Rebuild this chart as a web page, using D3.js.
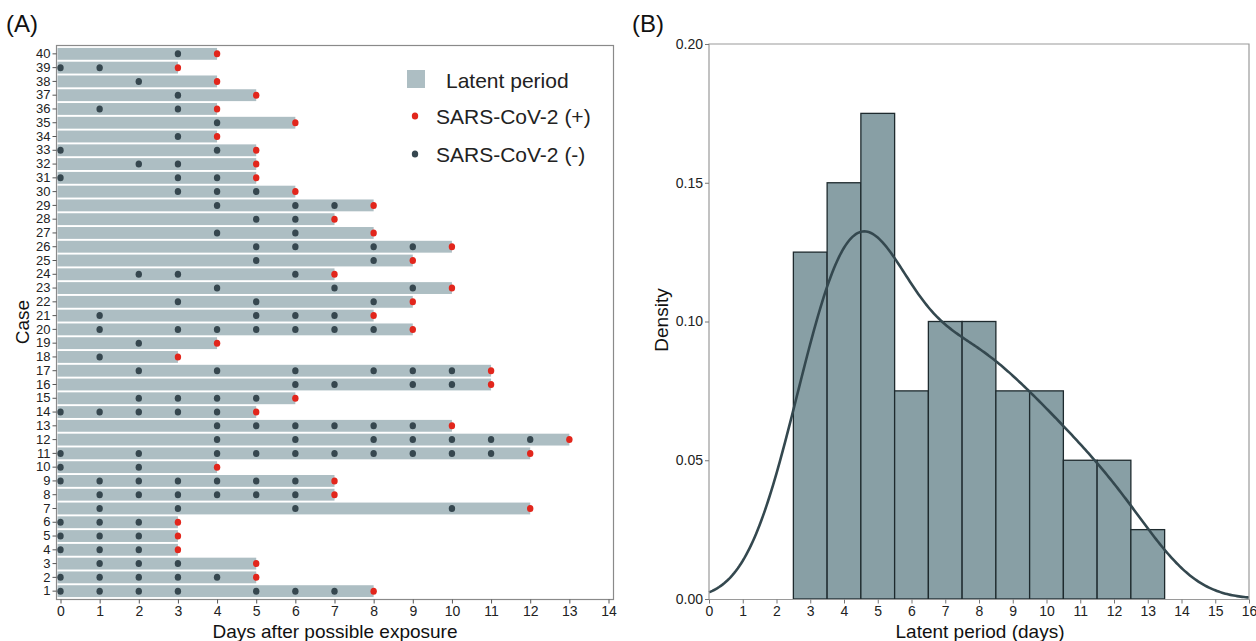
<!DOCTYPE html>
<html>
<head>
<meta charset="utf-8">
<script src="https://cdn.jsdelivr.net/npm/d3@7"></script>
<style>
  body { margin: 0; background: #fff; }
  svg { font-family: "Liberation Sans", Arial, sans-serif; }
</style>
</head>
<body>
<div id="chart"></div>
<script>
// case numbers, 1..40 (bottom to top)
const caseIds = [1,2,3,4,5,6,7,8,9,10,11,12,13,14,15,16,17,18,19,20,
                 21,22,23,24,25,26,27,28,29,30,31,32,33,34,35,36,37,38,39,40];

// day of the first positive test (= latent period), per case
const positiveDay = [8,5,5,3,3,3,12,7,7,4,12,13,10,5,6,11,11,3,4,9,
                     8,9,10,7,9,10,8,7,8,6,5,5,5,4,6,4,5,4,3,4];

// days with a negative test, per case
const negativeDays = [
  [0,1,2,3,5,6,7],          // 1
  [0,1,2,3,4],              // 2
  [1,2,3],                  // 3
  [0,1,2],                  // 4
  [0,1,2],                  // 5
  [0,1,2],                  // 6
  [1,3,6,10],               // 7
  [1,2,3,4,5,6],            // 8
  [0,1,2,3,4,5,6],          // 9
  [0,2],                    // 10
  [0,2,4,5,6,7,8,9,10,11],  // 11
  [4,6,8,9,10,11,12],       // 12
  [4,5,6,7,8,9],            // 13
  [0,1,2,3,4],              // 14
  [2,3,4,5],                // 15
  [6,7,9,10],               // 16
  [2,4,6,8,9,10],           // 17
  [1],                      // 18
  [2],                      // 19
  [1,3,4,5,6,7,8],          // 20
  [1,5,6,7],                // 21
  [3,5,8],                  // 22
  [4,7,9],                  // 23
  [2,3,6],                  // 24
  [5,8],                    // 25
  [5,6,8,9],                // 26
  [4,6],                    // 27
  [5,6],                    // 28
  [4,6,7],                  // 29
  [3,4,5],                  // 30
  [0,3,4],                  // 31
  [2,3],                    // 32
  [0,4],                    // 33
  [3],                      // 34
  [4],                      // 35
  [1,3],                    // 36
  [3],                      // 37
  [2],                      // 38
  [0,1],                    // 39
  [3]                       // 40
];

const dayTicksA = [0,1,2,3,4,5,6,7,8,9,10,11,12,13,14];
const dayTicksB = [0,1,2,3,4,5,6,7,8,9,10,11,12,13,14,15,16];
const densityTicks = [0, 0.05, 0.10, 0.15, 0.20];
const legendLabels = ["Latent period", "SARS-CoV-2 (+)", "SARS-CoV-2 (-)"];

const W = 1256, H = 641;
const barColor = "#adbec3";
const histColor = "#889fa5";
const posColor = "#e2261c";
const negColor = "#36474f";
const curveColor = "#34484f";
const frameColor = "#8a8a8a";

const svg = d3.select("#chart").append("svg")
    .attr("width", W).attr("height", H);

// ---------- Panel A ----------
const xA = d3.scaleLinear().domain([0, 14]).range([60.5, 608.5]);
const yA = d3.scaleBand().domain(caseIds).range([599, 46]).padding(0.14);

const gA = svg.append("g");

const rows = caseIds.map((c, i) => ({ id: c, pos: positiveDay[i], neg: negativeDays[i] }));

gA.selectAll(".bar").data(rows).join("rect")
    .attr("class", "bar")
    .attr("x", xA(0) - 3)
    .attr("y", d => yA(d.id))
    .attr("width", d => xA(d.pos) - xA(0) + 3)
    .attr("height", yA.bandwidth())
    .attr("fill", barColor);

const negPts = rows.flatMap(d => d.neg.map(v => ({ id: d.id, day: v })));
gA.selectAll(".neg").data(negPts).join("ellipse")
    .attr("class", "neg")
    .attr("cx", d => xA(d.day))
    .attr("cy", d => yA(d.id) + yA.bandwidth() / 2)
    .attr("rx", 3.2).attr("ry", 3.5)
    .attr("fill", negColor);

gA.selectAll(".pos").data(rows).join("ellipse")
    .attr("class", "pos")
    .attr("cx", d => xA(d.pos))
    .attr("cy", d => yA(d.id) + yA.bandwidth() / 2)
    .attr("rx", 3.2).attr("ry", 3.5)
    .attr("fill", posColor);

// frame
gA.append("rect")
    .attr("x", 56.5).attr("y", 45.5)
    .attr("width", 557).attr("height", 554)
    .attr("fill", "none")
    .attr("stroke", frameColor)
    .attr("stroke-width", 1.2);

const axA_y = gA.append("g")
    .attr("transform", "translate(56.5,0)")
    .call(d3.axisLeft(yA).tickSize(4).tickPadding(2));
axA_y.select(".domain").remove();
axA_y.selectAll("text").style("font-size", "13px").attr("fill", "#222");
axA_y.selectAll("line").attr("stroke", "#555");

const axA_x = gA.append("g")
    .attr("transform", "translate(0,599.5)")
    .call(d3.axisBottom(xA).tickValues(dayTicksA).tickSize(4).tickPadding(3));
axA_x.select(".domain").remove();
axA_x.selectAll("text").style("font-size", "14px").attr("fill", "#222");
axA_x.selectAll("line").attr("stroke", "#555");

gA.append("text")
    .attr("x", 335).attr("y", 638)
    .attr("text-anchor", "middle")
    .style("font-size", "19px").attr("fill", "#111")
    .text("Days after possible exposure");

gA.append("text")
    .attr("transform", "translate(29,322) rotate(-90)")
    .attr("text-anchor", "middle")
    .style("font-size", "19px").attr("fill", "#111")
    .text("Case");

svg.append("text")
    .attr("x", 6).attr("y", 32)
    .style("font-size", "24px").attr("fill", "#111")
    .text("(A)");

// legend
const lg = gA.append("g");
lg.append("rect").attr("x", 407).attr("y", 70).attr("width", 18).attr("height", 18).attr("fill", barColor);
lg.append("ellipse").attr("cx", 415).attr("cy", 116).attr("rx", 3.2).attr("ry", 3.5).attr("fill", posColor);
lg.append("ellipse").attr("cx", 415).attr("cy", 154).attr("rx", 3.2).attr("ry", 3.5).attr("fill", negColor);
lg.selectAll(".lgText").data(legendLabels).join("text")
    .attr("class", "lgText")
    .attr("x", (d, i) => i === 0 ? 446 : 436)
    .attr("y", (d, i) => [80, 116, 154][i])
    .attr("dy", "0.36em")
    .style("font-size", "21px").attr("fill", "#222")
    .text(d => d);

// ---------- Panel B ----------
const xB = d3.scaleLinear().domain([0, 16]).range([709, 1249]);
const yB = d3.scaleLinear().domain([0, 0.2]).range([599, 44]);
const gB = svg.append("g");

const n = positiveDay.length;
const bins = d3.bin().domain([2.5, 13.5]).thresholds(d3.range(3.5, 13.5, 1))(positiveDay);

gB.selectAll(".hist").data(bins).join("rect")
    .attr("class", "hist")
    .attr("x", d => xB(d.x0))
    .attr("y", d => yB(d.length / n / (d.x1 - d.x0)))
    .attr("width", d => xB(d.x1) - xB(d.x0))
    .attr("height", d => yB(0) - yB(d.length / n / (d.x1 - d.x0)))
    .attr("fill", histColor)
    .attr("stroke", "#1e2a2e")
    .attr("stroke-width", 1.3);

// gaussian kernel density of the latent periods (bw.nrd0 rule)
const sorted = positiveDay.slice().sort(d3.ascending);
const sd = d3.deviation(positiveDay);
const iqr = d3.quantile(sorted, 0.75) - d3.quantile(sorted, 0.25);
const bw = 0.9 * Math.min(sd, iqr / 1.34) * Math.pow(n, -0.2);
const kde = x => d3.mean(positiveDay, v => Math.exp(-0.5 * ((x - v) / bw) ** 2) / (bw * Math.sqrt(2 * Math.PI)));
const curvePts = d3.range(0, 16.001, 0.05).map(x => [x, kde(x)]);

gB.append("path")
    .datum(curvePts)
    .attr("fill", "none")
    .attr("stroke", curveColor)
    .attr("stroke-width", 2.6)
    .attr("d", d3.line().x(d => xB(d[0])).y(d => yB(d[1])));

// frame lines
gB.append("path")
    .attr("d", `M${xB(0)},${yB(0) + 0.5}V${yB(0.2)}H${xB(16)}V${yB(0) + 0.5}H${xB(0)}`)
    .attr("fill", "none")
    .attr("stroke", "#9a9a9a")
    .attr("stroke-width", 1.2);

const axB_y = gB.append("g")
    .attr("transform", `translate(${xB(0)},0)`)
    .call(d3.axisLeft(yB).tickValues(densityTicks).tickFormat(d3.format(".2f")).tickSize(4).tickPadding(2));
axB_y.select(".domain").remove();
axB_y.selectAll("text").style("font-size", "14px").attr("fill", "#222");
axB_y.selectAll("line").attr("stroke", "#777");

const axB_x = gB.append("g")
    .attr("transform", `translate(0,${yB(0) + 0.5})`)
    .call(d3.axisBottom(xB).tickValues(dayTicksB).tickSize(4).tickPadding(3));
axB_x.select(".domain").remove();
axB_x.selectAll("text").style("font-size", "14px").attr("fill", "#222");
axB_x.selectAll("line").attr("stroke", "#777");

gB.append("text")
    .attr("x", 980).attr("y", 638)
    .attr("text-anchor", "middle")
    .style("font-size", "19px").attr("fill", "#111")
    .text("Latent period (days)");

gB.append("text")
    .attr("transform", "translate(668,320) rotate(-90)")
    .attr("text-anchor", "middle")
    .style("font-size", "19px").attr("fill", "#111")
    .text("Density");

svg.append("text")
    .attr("x", 632).attr("y", 32)
    .style("font-size", "24px").attr("fill", "#111")
    .text("(B)");
</script>
</body>
</html>
